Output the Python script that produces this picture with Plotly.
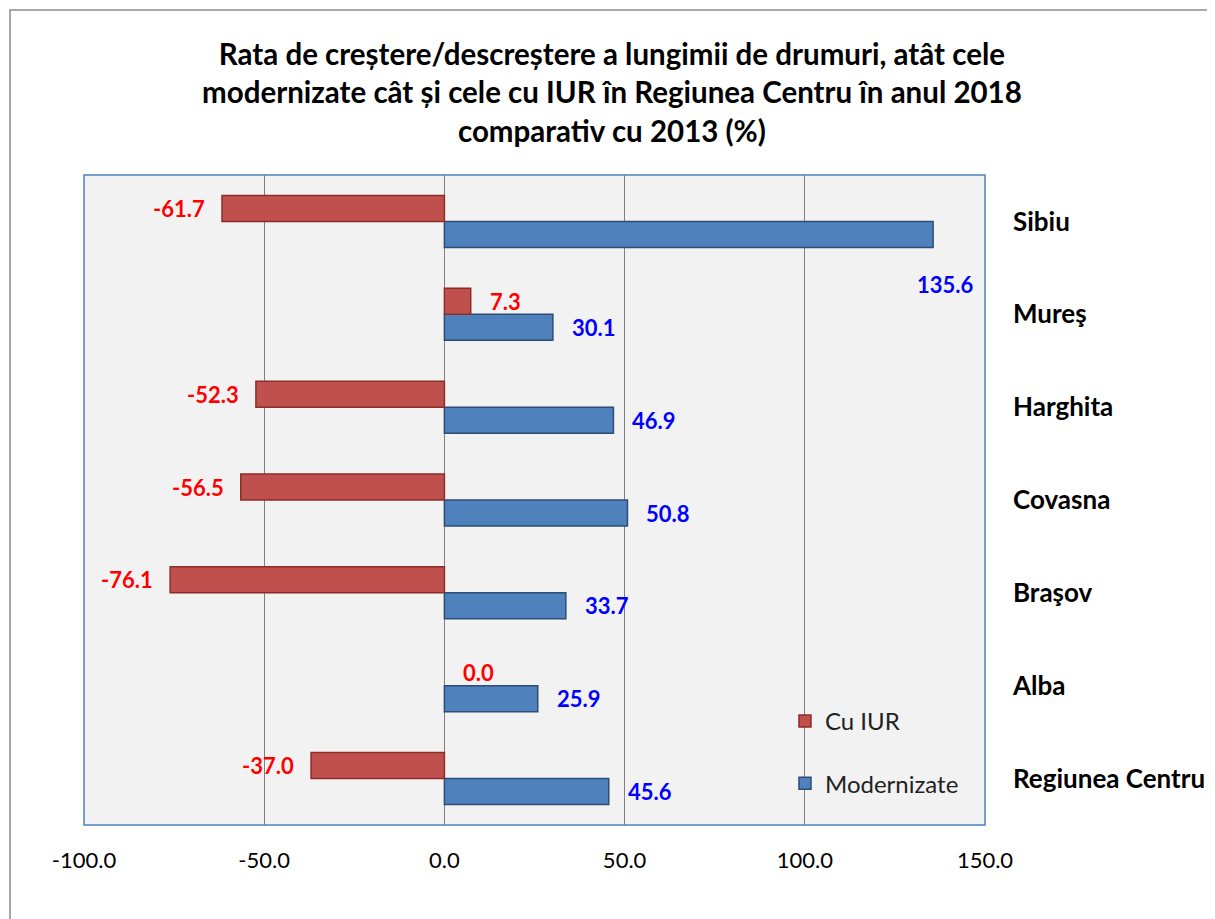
import plotly.graph_objects as go

categories = ["Regiunea Centru", "Alba", "Braşov", "Covasna", "Harghita", "Mureş", "Sibiu"]
cu_iur = [-37.0, 0.0, -76.1, -56.5, -52.3, 7.3, -61.7]
modernizate = [45.6, 25.9, 33.7, 50.8, 46.9, 30.1, 135.6]
tick_vals = [-100, -50, 0, 50, 100, 150]
tick_text = [f"{v:.1f}" for v in tick_vals]

title = ("Rata de creștere/descreștere a lungimii de drumuri, atât cele<br>"
         "modernizate cât și cele cu IUR în Regiunea Centru în anul 2018<br>"
         "comparativ cu 2013 (%)")

FONT = "Lato, 'Open Sans', sans-serif"
RED = "#C0504D"
BLUE = "#4F81BD"

fig = go.Figure()
fig.add_trace(go.Bar(
    y=categories, x=modernizate, orientation="h", name="Modernizate",
    legendgroup="m", legendrank=2,
    marker=dict(color=BLUE, line=dict(color="#2C4D75", width=1.5)),
))
fig.add_trace(go.Bar(
    y=categories, x=cu_iur, orientation="h", name="Cu IUR",
    legendgroup="c", legendrank=1,
    marker=dict(color=RED, line=dict(color="#8C2D2A",
                                     width=[0 if v == 0 else 1.5 for v in cu_iur])),
))

LBL = dict(size=22, family=FONT, weight="bold")
annotations = []
for cat, v in zip(categories, cu_iur):
    f = dict(LBL, color="#FF0000")
    if v < 0:
        annotations.append(dict(x=v, y=cat, text=f"{v:.1f}", xanchor="right",
                                xshift=-15, yshift=13, showarrow=False, font=f))
    else:
        annotations.append(dict(x=v, y=cat, text=f"{v:.1f}", xanchor="left",
                                xshift=17, yshift=13, showarrow=False, font=f))
for cat, v in zip(categories, modernizate):
    f = dict(LBL, color="#0000FF")
    if cat == "Sibiu":
        annotations.append(dict(x=v, y=cat, text=f"{v:.1f}", xanchor="center",
                                xshift=12, yshift=-63, showarrow=False, font=f))
    else:
        annotations.append(dict(x=v, y=cat, text=f"{v:.1f}", xanchor="left",
                                xshift=17, yshift=-13, showarrow=False, font=f))

annotations.append(dict(xref="paper", yref="paper", x=0.586, y=1.1277,
                        xanchor="center", yanchor="middle", showarrow=False,
                        text=title,
                        font=dict(size=29.5, family=FONT, color="black", weight="bold")))

fig.update_layout(
    width=1207, height=911,
    margin=dict(l=76, r=230, t=167, b=94, autoexpand=False),
    paper_bgcolor="white",
    plot_bgcolor="#F2F2F2",
    barmode="group",
    bargap=0.44,
    bargroupgap=0,
    font=dict(family=FONT, color="black"),
    legend=dict(x=0.778, y=0.194, xanchor="left", yanchor="top",
                bgcolor="rgba(0,0,0,0)", traceorder="grouped",
                font=dict(size=24, family=FONT, color="#222"),
                itemwidth=30, tracegroupgap=28),
    annotations=annotations,
    shapes=[
        dict(type="rect", xref="paper", yref="paper", x0=-0.0821, x1=1.27,
             y0=-0.16, y1=1.2538, line=dict(color="#8C8C8C", width=1.5),
             fillcolor="rgba(0,0,0,0)", layer="below"),
        dict(type="rect", xref="paper", yref="paper", x0=0, x1=1, y0=0, y1=1,
             line=dict(color="#4F81BD", width=1.5), fillcolor="rgba(0,0,0,0)"),
    ],
    xaxis=dict(range=[-100, 150], tickvals=tick_vals, ticktext=tick_text,
               showgrid=True, gridcolor="#808080", gridwidth=1,
               zeroline=True, zerolinecolor="#808080", zerolinewidth=1,
               tickfont=dict(size=22, family=FONT, color="black"),
               ticks="", ticklabelstandoff=20, showline=False, automargin=False),
    yaxis=dict(side="right", categoryorder="array", categoryarray=categories,
               tickfont=dict(size=26, family=FONT, color="black", weight="bold"),
               ticks="", ticklabelstandoff=27, showgrid=False, zeroline=False,
               showline=False, automargin=False),
)

fig.write_html("out.html")
